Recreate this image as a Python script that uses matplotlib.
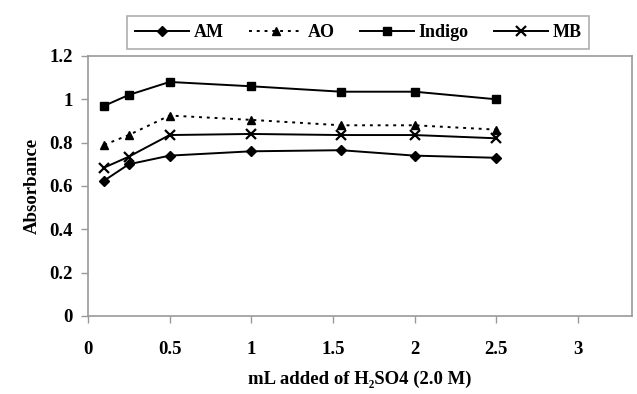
import numpy as np
import matplotlib
matplotlib.use('Agg')
import matplotlib.pyplot as plt

### data
volume = [0.1, 0.25, 0.5, 1.0, 1.55, 2.0, 2.5]   # mL of H2SO4 (2.0 M)
am = [0.625, 0.70, 0.74, 0.76, 0.765, 0.74, 0.73]
ao = [0.79, 0.835, 0.925, 0.905, 0.88, 0.88, 0.86]
indigo = [0.97, 1.02, 1.08, 1.06, 1.035, 1.035, 1.0]
mb = [0.685, 0.735, 0.835, 0.84, 0.835, 0.835, 0.82]

xticks = [0, 0.5, 1, 1.5, 2, 2.5, 3]
xticklabels = ['0', '0.5', '1', '1.5', '2', '2.5', '3']
yticks = [0, 0.2, 0.4, 0.6, 0.8, 1.0, 1.2]
yticklabels = ['0', '0.2', '0.4', '0.6', '0.8', '1', '1.2']

plt.rcParams['font.family'] = ['Liberation Serif', 'DejaVu Serif']
plt.rcParams['font.weight'] = 'bold'

fig = plt.figure(figsize=(6.37, 3.94), dpi=100)
ax = fig.add_axes([0.138, 0.198, 0.854, 0.660])

ax.plot(volume, am, color='black', lw=1.4, marker='D', ms=5, label='AM')
ax.plot(volume, ao, color='black', lw=1.4, ls=(0, (1.5, 2.5)), marker='^', ms=6, label='AO')
ax.plot(volume, indigo, color='black', lw=1.4, marker='s', ms=6, label='Indigo')
ax.plot(volume, mb, color='black', lw=1.4, marker='x', ms=6.5, mew=1.6, label='MB')

ax.set_xlim(0, 3.33)
ax.set_ylim(0, 1.2)
ax.set_xticks(xticks)
ax.set_xticklabels(xticklabels)
ax.set_yticks(yticks)
ax.set_yticklabels(yticklabels)
ax.tick_params(direction='out', length=5, width=1, color='#999999',
               labelsize=13.5, pad=6)
ax.tick_params(axis='x', pad=13)
for s in ax.spines.values():
    s.set_color('#999999')
    s.set_linewidth(1.2)

ax.set_ylabel('Absorbance', fontsize=13.5, fontweight='bold', labelpad=6)
ax.set_xlabel('mL added of H\u2082SO4 (2.0 M)', fontsize=13.5, fontweight='bold', labelpad=9)

leg = fig.legend(loc='center', bbox_to_anchor=(0.562, 0.917),
                 ncol=4, frameon=True, fancybox=False, fontsize=13,
                 handlelength=3.0, handletextpad=0.25, columnspacing=1.4,
                 borderpad=0.45, borderaxespad=0)
leg.get_frame().set_edgecolor('#999999')
leg.get_frame().set_linewidth(1.2)

fig.savefig('out.png', dpi=100)
